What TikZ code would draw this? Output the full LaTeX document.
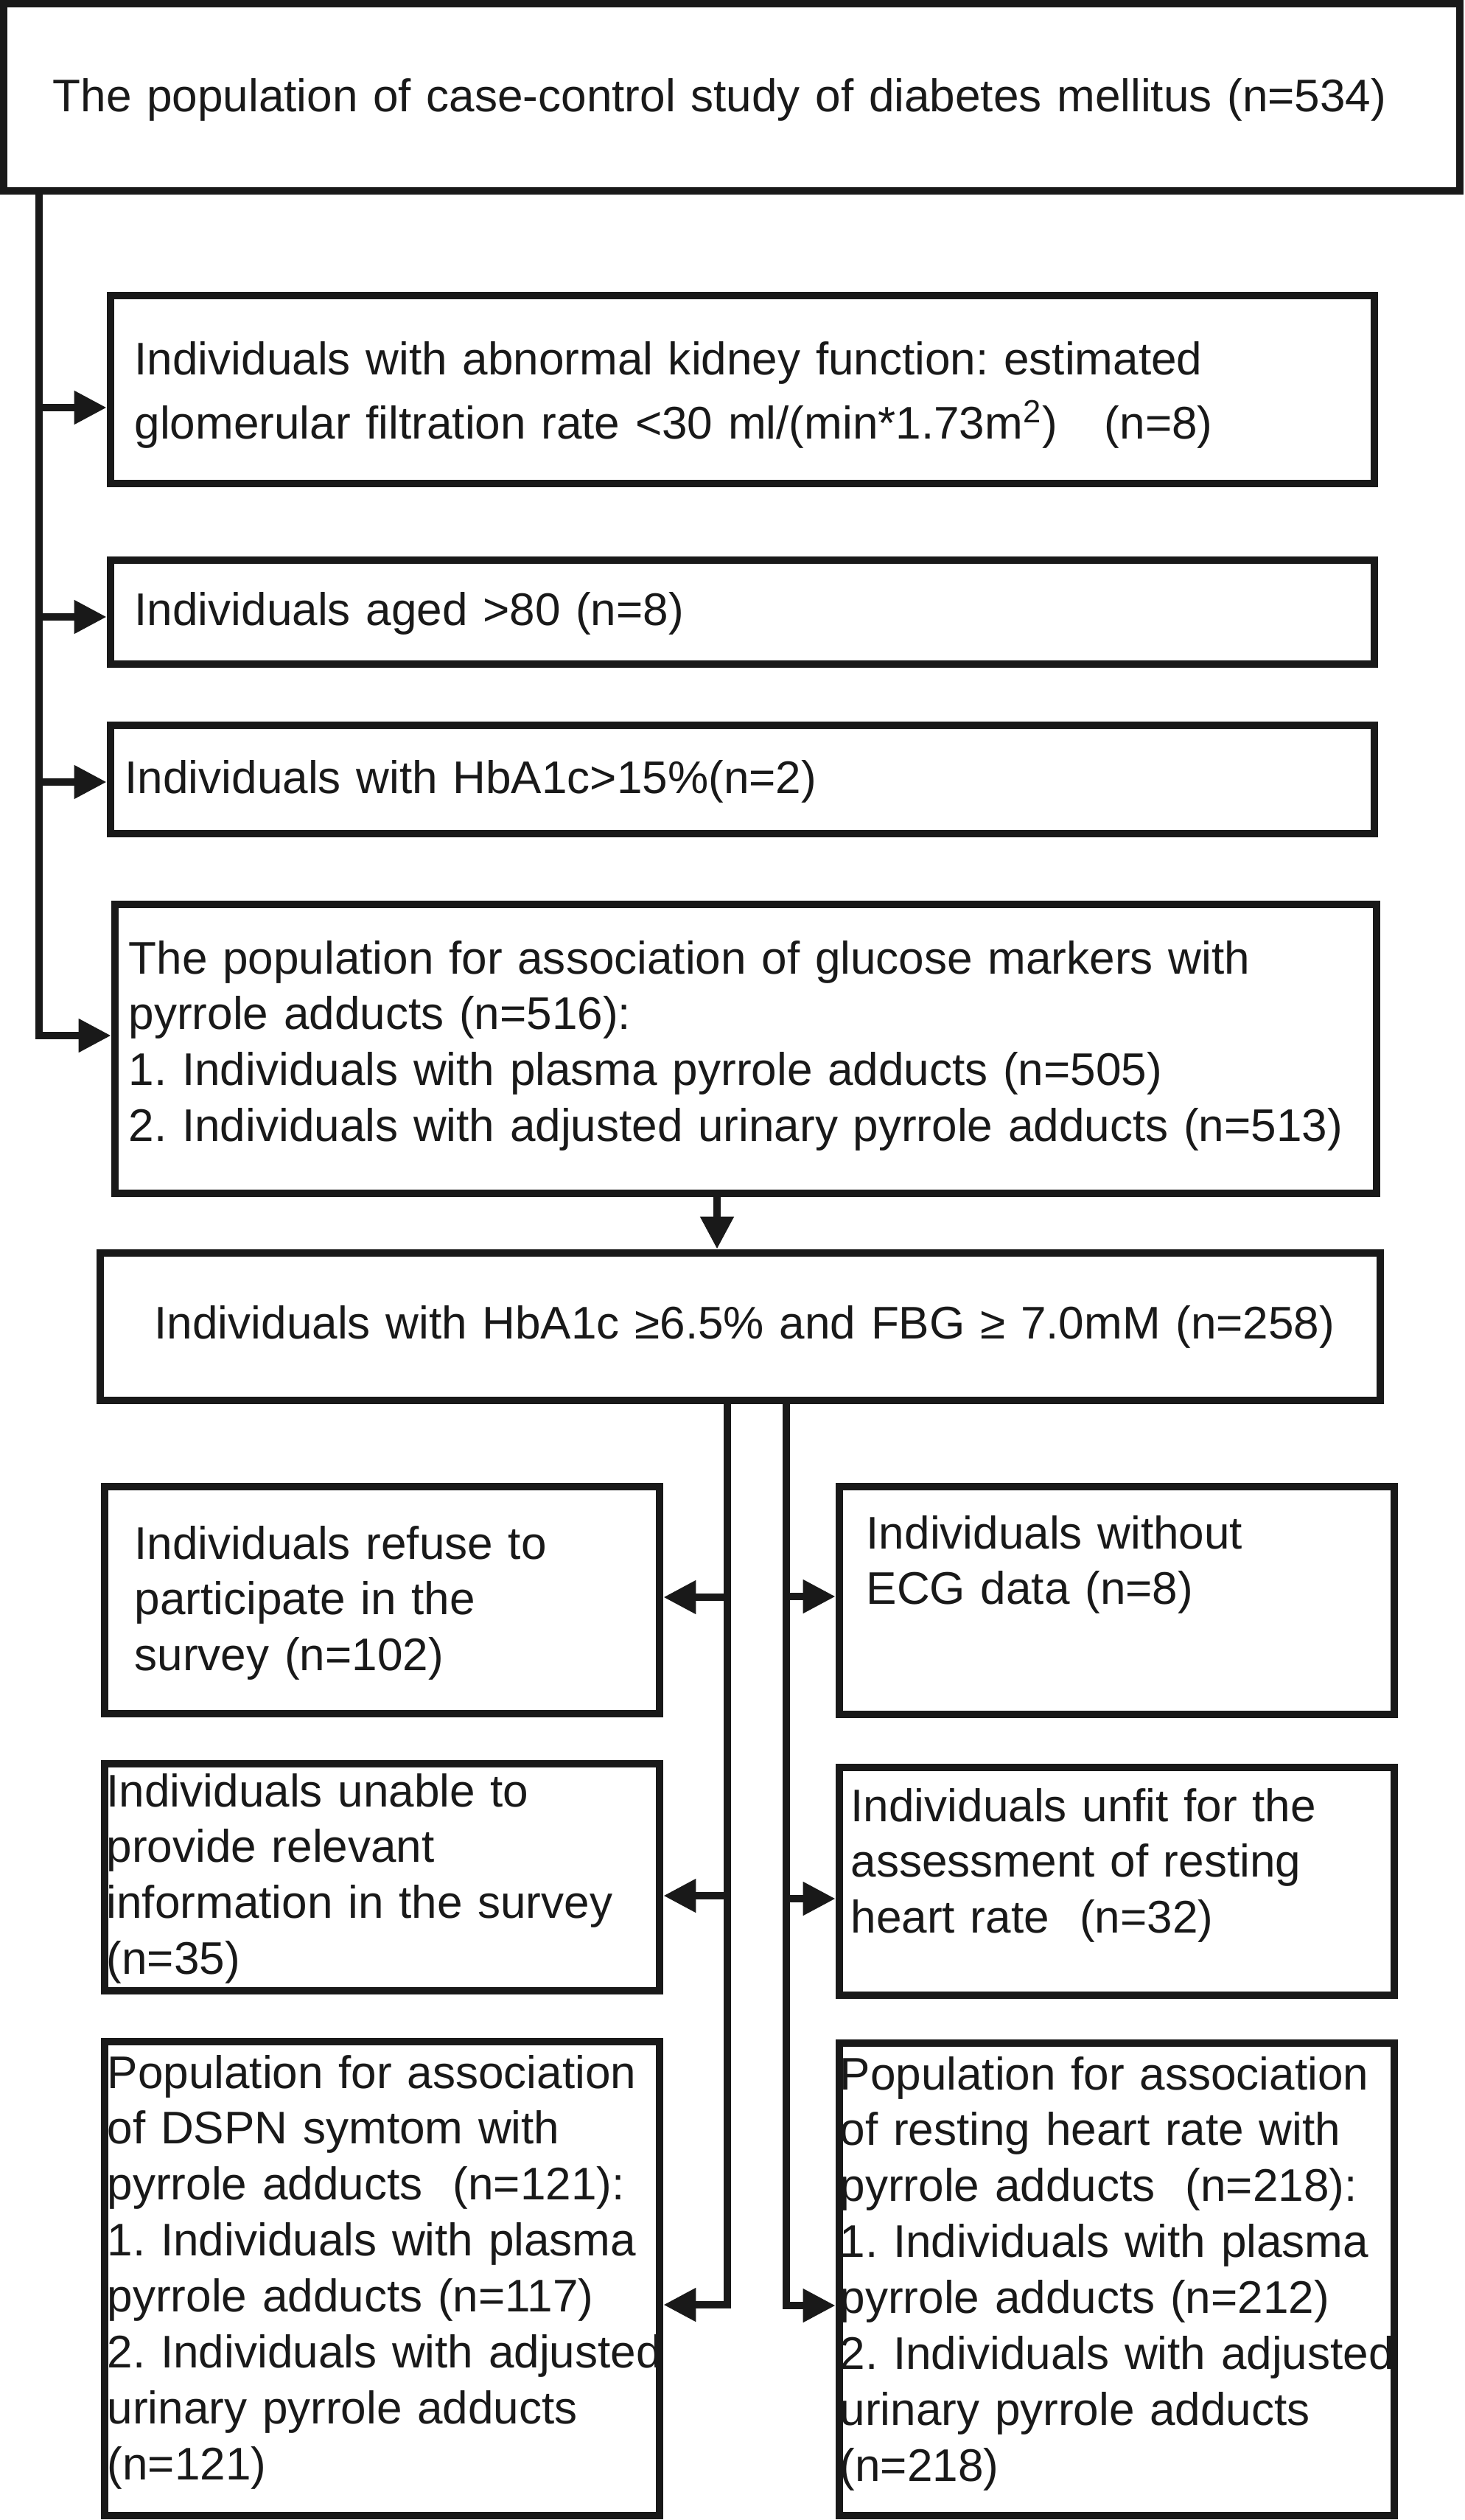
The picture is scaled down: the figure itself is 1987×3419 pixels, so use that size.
\documentclass[tikz,border=0pt]{standalone}
\usepackage{fontspec}
\setmainfont{Liberation Sans}
\usetikzlibrary{arrows.meta,fit}
\definecolor{ink}{gray}{0.1}
\frenchspacing
\tikzset{
  box/.style={draw=ink, line width=0.105cm, inner sep=0pt, line join=miter},
  txt/.style={anchor=base west, inner sep=0pt, text width=19cm, align=left, text=ink,
              font=\fontsize{17.65pt}{21.6pt}\selectfont\frenchspacing},
  arr/.style={draw=ink, line width=0.105cm, line join=miter,
              -{Triangle[length=0.44cm,width=0.43cm]}},
}
\begin{document}
\begin{tikzpicture}[x=0.01cm,y=-0.01cm]
\useasboundingbox (0,0) rectangle (1987,3419);

% texts
\node[txt] (t0) at (71,152) {The population of case-control study of diabetes mellitus (n=534)};
\node[txt] (t1) at (182,509) {Individuals with abnormal kidney function: estimated\\[0.11cm]
glomerular filtration rate <30 ml/(min*1.73m\textsuperscript{2})\hspace{0.64cm}(n=8)};
\node[txt] (t2) at (182,848) {Individuals aged >80 (n=8)};
\node[txt] (t3) at (169,1076) {Individuals with HbA1c>15\%(n=2)};
\node[txt] (t4) at (174,1321) {The population for association of glucose markers with\\
pyrrole adducts (n=516):\\
1. Individuals with plasma pyrrole adducts (n=505)\\
2. Individuals with adjusted urinary pyrrole adducts (n=513)};
\node[txt] (t5) at (209,1816) {Individuals with HbA1c ≥6.5\% and FBG ≥ 7.0mM (n=258)};
\node[txt] (tA) at (182,2115) {Individuals refuse to\\participate in the\\survey (n=102)};
\node[txt] (tB) at (1175,2101) {Individuals without\\ECG data (n=8)};
\node[txt] (tC) at (144,2451) {Individuals unable to\\provide relevant\\information in the survey\\(n=35)};
\node[txt] (tD) at (1154,2471) {Individuals unfit for the\\assessment of resting\\heart rate\ \ (n=32)};
\node[txt] (tE) at (145,2833) {Population for association\\of DSPN symtom with\\pyrrole adducts\ \ (n=121):\\1. Individuals with plasma\\pyrrole adducts (n=117)\\2. Individuals with adjusted\\urinary pyrrole adducts\\(n=121)};
\node[txt] (tF) at (1139,2835) {Population for association\\of resting heart rate with\\pyrrole adducts\ \ (n=218):\\1. Individuals with plasma\\pyrrole adducts (n=212)\\2. Individuals with adjusted\\urinary pyrrole adducts\\(n=218)};

% boxes
\node[box, fit={(5,5) (1981,259)}] (b0) {};
\node[box, fit={(150,401) (1865,656)}] (b1) {};
\node[box, fit={(150,760) (1865,901)}] (b2) {};
\node[box, fit={(150,984) (1865,1131)}] (b3) {};
\node[box, fit={(156,1227) (1868,1619)}] (b4) {};
\node[box, fit={(136,1700) (1873,1900)}] (b5) {};
\node[box, fit={(142,2017) (895,2325)}] (bA) {};
\node[box, fit={(1139,2017) (1892,2326)}] (bB) {};
\node[box, fit={(142,2393) (895,2701)}] (bC) {};
\node[box, fit={(1139,2398) (1892,2707)}] (bD) {};
\node[box, fit={(142,2770) (895,3413)}] (bE) {};
\node[box, fit={(1139,2772) (1892,3413)}] (bF) {};

% trunk on the left
\coordinate (a1) at (53,553);
\coordinate (a2) at (53,837);
\coordinate (a3) at (53,1061);
\coordinate (a4) at (53,1405);
\draw[arr] (b0.south -| a4) -- (a4) -- (a4 -| b4.west);
\draw[arr] (a1) -- (a1 -| b1.west);
\draw[arr] (a2) -- (a2 -| b2.west);
\draw[arr] (a3) -- (a3 -| b3.west);

% down arrow
\coordinate (dd) at (973,1650);
\draw[arr] (b4.south -| dd) -- (b5.north -| dd);

% left branch
\coordinate (L1) at (987,2167);
\coordinate (L2) at (987,2572);
\coordinate (L3) at (987,3127);
\draw[arr] (b5.south -| L3) -- (L3) -- (L3 -| bE.east);
\draw[arr] (L1) -- (L1 -| bA.east);
\draw[arr] (L2) -- (L2 -| bC.east);

% right branch
\coordinate (R1) at (1067,2166);
\coordinate (R2) at (1067,2576);
\coordinate (R3) at (1067,3128);
\draw[arr] (b5.south -| R3) -- (R3) -- (R3 -| bF.west);
\draw[arr] (R1) -- (R1 -| bB.west);
\draw[arr] (R2) -- (R2 -| bD.west);
\end{tikzpicture}
\end{document}
